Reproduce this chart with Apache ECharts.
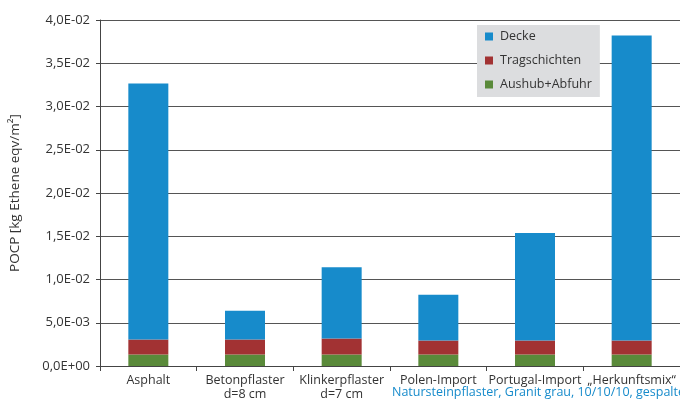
<!DOCTYPE html>
<html>
<head>
<meta charset="utf-8">
<script src="https://cdn.jsdelivr.net/npm/echarts@6/dist/echarts.min.js"></script>
<style>
html,body{margin:0;padding:0;background:#fff;}
#c{width:680px;height:401px;}
</style>
</head>
<body>
<div id="c"></div>
<script>
var categories = ["Asphalt", "Betonpflaster\nd=8 cm", "Klinkerpflaster\nd=7 cm", "Polen-Import", "Portugal-Import", "\u201EHerkunftsmix\u201C"];
var aushub = [0.00133, 0.00133, 0.00133, 0.00133, 0.00133, 0.00133];
var tragschichten = [0.00172, 0.00172, 0.00184, 0.00161, 0.00161, 0.00161];
var decke = [0.0296, 0.00335, 0.00826, 0.0053, 0.01245, 0.03527];
var seriesNames = ["Decke", "Tragschichten", "Aushub+Abfuhr"];
var colors = {"Decke": "#178BCB", "Tragschichten": "#A23233", "Aushub+Abfuhr": "#5A8A3A"};
var yAxisTitle = "POCP [kg Ethene eqv/m\u00B2]";
var subtitle = "Natursteinpflaster, Granit grau, 10/10/10, gespalten";

var FONT = "Open Sans";
function fmt(v) {
  if (v === 0) return "0,0E+00";
  var s = v.toExponential(1);
  var parts = s.split("e");
  var exp = parseInt(parts[1], 10);
  var sign = exp < 0 ? "-" : "+";
  var a = Math.abs(exp);
  return parts[0].replace(".", ",") + "E" + sign + (a < 10 ? "0" + a : a);
}

var chart = echarts.init(document.getElementById("c"), null, {renderer: "canvas"});
var barW = 40;
chart.setOption({
  animation: false,
  backgroundColor: "#ffffff",
  grid: {left: 97, top: 20, right: -2, bottom: 34.5, containLabel: false},
  legend: {
    data: seriesNames,
    orient: "vertical",
    left: 477, top: 25,
    width: 124,
    padding: [5, 8, 6, 8],
    backgroundColor: "#DCDDDF",
    itemWidth: 8, itemHeight: 8, itemGap: 11,
    icon: "rect",
    textStyle: {fontFamily: FONT, fontSize: 12.5, color: "#333", padding: [0, 0, 0, 2]}
  },
  xAxis: {
    type: "category",
    data: categories,
    axisLine: {lineStyle: {color: "#444", width: 1}},
    axisTick: {show: true, length: 5, alignWithLabel: false, lineStyle: {color: "#444"}},
    axisLabel: {fontFamily: FONT, fontSize: 12.5, color: "#333", margin: 7, lineHeight: 14, interval: 0}
  },
  yAxis: {
    type: "value",
    min: 0, max: 0.04, interval: 0.005,
    name: yAxisTitle,
    nameLocation: "middle",
    nameGap: 78,
    nameRotate: 90,
    nameTextStyle: {fontFamily: FONT, fontSize: 13.5, color: "#333"},
    axisLine: {show: true, lineStyle: {color: "#444", width: 1}},
    axisTick: {show: true, length: 4, lineStyle: {color: "#444"}},
    splitLine: {show: true, lineStyle: {color: "#555", width: 1}},
    axisLabel: {fontFamily: FONT, fontSize: 13, color: "#333", margin: 10, formatter: fmt}
  },
  graphic: [{
    type: "text",
    left: 392, top: 386,
    style: {text: subtitle, fill: "#178BCB", font: "12.5px '" + FONT + "'"}
  }],
  series: [
    {name: "Aushub+Abfuhr", type: "bar", stack: "s", data: aushub, barWidth: barW, itemStyle: {color: colors["Aushub+Abfuhr"]}},
    {name: "Tragschichten", type: "bar", stack: "s", data: tragschichten, barWidth: barW, itemStyle: {color: colors["Tragschichten"]}},
    {name: "Decke", type: "bar", stack: "s", data: decke, barWidth: barW, itemStyle: {color: colors["Decke"]}}
  ]
});
</script>
</body>
</html>
